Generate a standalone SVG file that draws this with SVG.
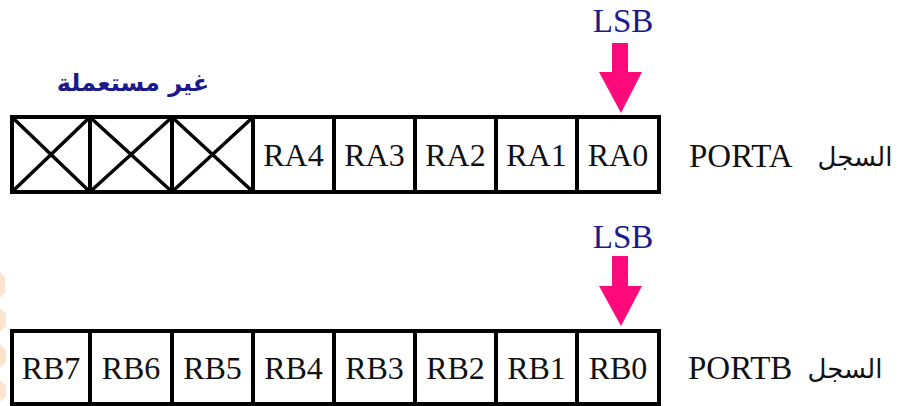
<svg xmlns="http://www.w3.org/2000/svg" width="909" height="406" viewBox="0 0 909 406">
<style>
.box{fill:#fff;stroke:#000;stroke-width:4}
.div{stroke:#000;stroke-width:4}
.x{stroke:#000;stroke-width:3.5}
.cell{font-family:"Liberation Serif","Times New Roman",serif;font-size:32px;fill:#111;text-anchor:middle}
.lbl{font-family:"Liberation Serif","Times New Roman",serif;font-size:33px;fill:#111}
.ar{font-family:"DejaVu Sans","Noto Sans",sans-serif;font-size:26px;fill:#111;text-anchor:middle}
.lsb{font-family:"Liberation Serif","Times New Roman",serif;font-size:33px;fill:#1a1a8c;text-anchor:middle}
.unused{font-family:"DejaVu Sans","Noto Sans",sans-serif;font-size:24px;font-weight:bold;fill:#1a1a8c;text-anchor:middle}
.arrow{fill:#ff0a7d}
.wm{fill:#fde4cf}
</style>
<g id="watermark">
<polygon class="wm" points="0,272 5,278 5,292 0,298"/>
<polygon class="wm" points="0,308 6,314 6,326 0,332"/>
<polygon class="wm" points="0,344 6,350 6,362 0,368"/>
<polygon class="wm" points="0,380 6,386 6,396 0,402"/>
</g>
<g id="unused-label"><text class="unused" x="133" y="91">غير مستعملة</text></g>
<g id="porta">
<rect class="box" x="12" y="117" width="647" height="75"/>
<g class="div">
<line x1="90" y1="117" x2="90" y2="192"/><line x1="172" y1="117" x2="172" y2="192"/><line x1="253" y1="117" x2="253" y2="192"/><line x1="334" y1="117" x2="334" y2="192"/><line x1="415" y1="117" x2="415" y2="192"/><line x1="496" y1="117" x2="496" y2="192"/><line x1="577" y1="117" x2="577" y2="192"/>
</g>
<g class="x">
<line x1="14" y1="119" x2="88" y2="190"/><line x1="88" y1="119" x2="14" y2="190"/>
<line x1="92" y1="119" x2="170" y2="190"/><line x1="170" y1="119" x2="92" y2="190"/>
<line x1="174" y1="119" x2="251" y2="190"/><line x1="251" y1="119" x2="174" y2="190"/>
</g>
<text class="cell" x="293.5" y="166">RA4</text>
<text class="cell" x="374.5" y="166">RA3</text>
<text class="cell" x="455.5" y="166">RA2</text>
<text class="cell" x="536.5" y="166">RA1</text>
<text class="cell" x="618" y="166">RA0</text>
<text class="lbl" x="689" y="167">PORTA</text>
<text class="ar" x="855" y="166">السجل</text>
</g>
<g id="lsb-a">
<text class="lsb" x="623" y="32">LSB</text>
</g>
<g id="portb">
<rect class="box" x="12" y="331" width="647" height="73"/>
<g class="div">
<line x1="90" y1="331" x2="90" y2="404"/><line x1="172" y1="331" x2="172" y2="404"/><line x1="253" y1="331" x2="253" y2="404"/><line x1="334" y1="331" x2="334" y2="404"/><line x1="415" y1="331" x2="415" y2="404"/><line x1="496" y1="331" x2="496" y2="404"/><line x1="577" y1="331" x2="577" y2="404"/>
</g>
<text class="cell" x="51" y="379">RB7</text>
<text class="cell" x="131" y="379">RB6</text>
<text class="cell" x="212.5" y="379">RB5</text>
<text class="cell" x="293.5" y="379">RB4</text>
<text class="cell" x="374.5" y="379">RB3</text>
<text class="cell" x="455.5" y="379">RB2</text>
<text class="cell" x="536.5" y="379">RB1</text>
<text class="cell" x="618" y="379">RB0</text>
<text class="lbl" x="688" y="379">PORTB</text>
<text class="ar" x="845" y="378">السجل</text>
</g>
<g id="lsb-b">
<text class="lsb" x="623" y="248">LSB</text>
</g>
<g id="connectors">
<polygon class="arrow" points="612,43 628,43 628,72 642,72 621,113 599,72 612,72"/>
<polygon class="arrow" points="612,256 628,256 628,286 642,286 621,326 599,286 612,286"/>
</g>
</svg>
